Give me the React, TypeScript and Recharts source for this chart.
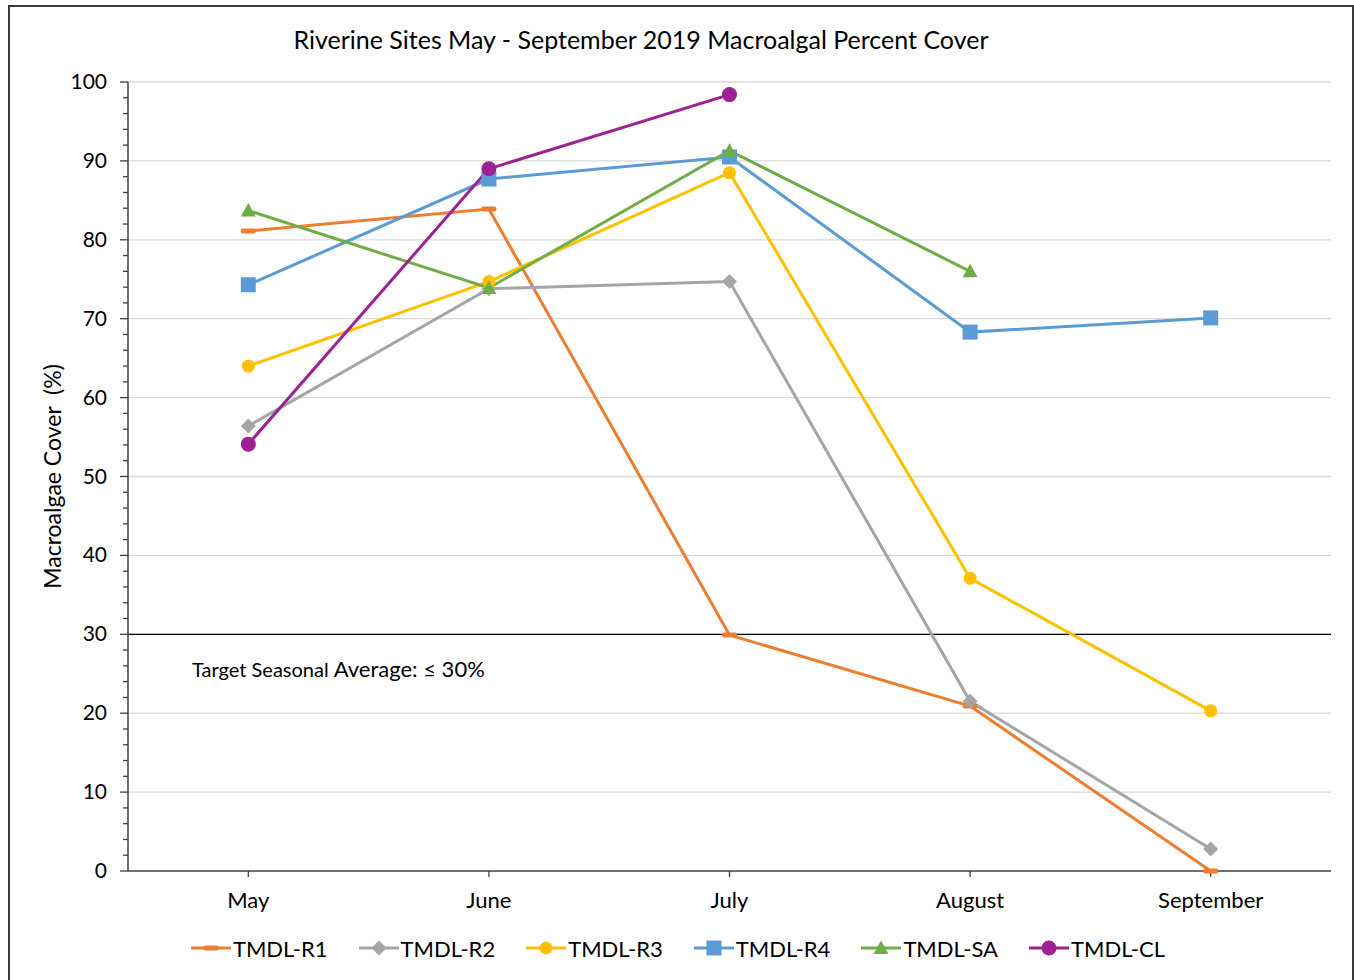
import React from 'react';
import { LineChart, Line, XAxis, YAxis, CartesianGrid, ReferenceLine, Legend } from 'recharts';

const months = ['May', 'June', 'July', 'August', 'September'];
const r1 = [81.1, 83.9, 29.9, 20.9, 0];
const r2 = [56.4, 73.8, 74.7, 21.5, 2.8];
const r3 = [64.0, 74.7, 88.5, 37.1, 20.3];
const r4 = [74.3, 87.7, 90.5, 68.3, 70.1];
const sa = [83.7, 73.9, 91.3, 76.0, null];
const cl = [54.1, 89.0, 98.4, null, null];
const yTicks = Array.from({ length: 51 }, (_, i) => i * 2);
const gridValues = [10, 20, 30, 40, 50, 60, 70, 80, 90, 100];

const FONT = 'Lato, "Liberation Sans", sans-serif';

type Kind = 'dash' | 'diamond' | 'circle' | 'square' | 'triangle' | 'bigcircle';

const series: { key: string; name: string; color: string; kind: Kind; values: (number | null)[] }[] = [
  { key: 'r1', name: 'TMDL-R1', color: '#ED7D31', kind: 'dash', values: r1 },
  { key: 'r2', name: 'TMDL-R2', color: '#A5A5A5', kind: 'diamond', values: r2 },
  { key: 'r3', name: 'TMDL-R3', color: '#FFC000', kind: 'circle', values: r3 },
  { key: 'r4', name: 'TMDL-R4', color: '#5B9BD5', kind: 'square', values: r4 },
  { key: 'sa', name: 'TMDL-SA', color: '#70AD47', kind: 'triangle', values: sa },
  { key: 'cl', name: 'TMDL-CL', color: '#9C2193', kind: 'bigcircle', values: cl },
];

const data = months.map((m, i) => {
  const row: Record<string, string | number | null> = { month: m };
  series.forEach((s) => (row[s.key] = s.values[i]));
  return row;
});

function Marker({ kind, cx, cy, color }: { kind: Kind; cx: number; cy: number; color: string }) {
  switch (kind) {
    case 'dash':
      return <rect x={cx - 7.5} y={cy - 2.5} width={15} height={5} rx={2} fill={color} />;
    case 'diamond':
      return <polygon points={`${cx},${cy - 7.5} ${cx + 7.5},${cy} ${cx},${cy + 7.5} ${cx - 7.5},${cy}`} fill={color} />;
    case 'circle':
      return <circle cx={cx} cy={cy} r={6.5} fill={color} />;
    case 'square':
      return <rect x={cx - 7.5} y={cy - 7.5} width={15} height={15} fill={color} />;
    case 'triangle':
      return <polygon points={`${cx},${cy - 7.5} ${cx + 7.5},${cy + 6} ${cx - 7.5},${cy + 6}`} fill={color} />;
    default:
      return <circle cx={cx} cy={cy} r={7.5} fill={color} />;
  }
}

function YTick(props: any) {
  const { x, y, payload } = props;
  const major = payload.value % 10 === 0;
  return (
    <g>
      <line x1={x - (major ? 8 : 5)} x2={x} y1={y} y2={y} stroke="#404040" strokeWidth={1.3} />
      {major && (
        <text x={x - 21} y={y} dy={7} textAnchor="end" fontSize={21} fontFamily={FONT} fill="#000">
          {payload.value}
        </text>
      )}
    </g>
  );
}

function LegendContent() {
  return (
    <div style={{ display: 'flex', justifyContent: 'center', alignItems: 'center', height: 30, gap: 30, paddingLeft: 14 }}>
      {series.map((s) => (
        <div key={s.key} style={{ display: 'flex', alignItems: 'center' }}>
          <svg width={42} height={18}>
            <line x1={1} x2={41} y1={9} y2={9} stroke={s.color} strokeWidth={3} />
            <Marker kind={s.kind} cx={21} cy={9} color={s.color} />
          </svg>
          <span style={{ fontFamily: FONT, fontSize: 22, color: '#000', marginLeft: 1 }}>{s.name}</span>
        </div>
      ))}
    </div>
  );
}

export default function App() {
  return (
    <div style={{ position: 'absolute', left: 0, top: 0, width: 1354, height: 980, background: '#fff', overflow: 'hidden' }}>
      <div
        style={{
          position: 'absolute',
          left: 8,
          top: 5,
          width: 1342,
          height: 990,
          border: '2px solid #3a3a3a',
        }}
      />
      <div
        style={{
          position: 'absolute',
          left: 0,
          width: 1282,
          top: 24,
          textAlign: 'center',
          fontFamily: FONT,
          fontSize: 25,
          color: '#000',
        }}
      >
        Riverine Sites May - September 2019 Macroalgal Percent Cover
      </div>
      <div style={{ position: 'absolute', left: 0, top: 0 }}>
        <LineChart width={1354} height={980} data={data} margin={{ top: 82, right: 23, bottom: 17, left: 10 }}>
          <CartesianGrid vertical={false} horizontalValues={gridValues} stroke="#D9D9D9" strokeWidth={1.3} />
          <XAxis
            dataKey="month"
            padding={{ left: 120.3, right: 120.3 }}
            height={62}
            axisLine={{ stroke: '#404040', strokeWidth: 1.5 }}
            tickLine={{ stroke: '#404040', strokeWidth: 1.3 }}
            tickSize={6}
            tickMargin={15}
            tick={{ fontSize: 22, fontFamily: FONT, fill: '#000' }}
          />
          <YAxis
            domain={[0, 100]}
            ticks={yTicks}
            interval={0}
            width={118}
            tickSize={0}
            tickMargin={0}
            tickLine={false}
            axisLine={{ stroke: '#404040', strokeWidth: 1.5 }}
            tick={<YTick />}
            label={{
              content: (p: any) => {
                const vb = p.viewBox;
                const cx = 52;
                const cy = vb.y + vb.height / 2;
                return (
                  <text
                    x={cx}
                    y={cy}
                    transform={`rotate(-90 ${cx} ${cy})`}
                    textAnchor="middle"
                    dominantBaseline="central"
                    fontSize={23}
                    fontFamily={FONT}
                    fill="#000"
                    style={{ whiteSpace: 'pre' }}
                  >
                    Macroalgae Cover  (%)
                  </text>
                );
              },
            }}
          />
          <ReferenceLine
            y={30}
            stroke="#000"
            strokeWidth={1.3}
            ifOverflow="visible"
            label={{
              content: () => (
                <text x={192} y={677} fontFamily={FONT} fill="#000">
                  <tspan fontSize={20}>Target Seasonal </tspan>
                  <tspan fontSize={22}>Average: ≤ 30%</tspan>
                </text>
              ),
            }}
          />
          <Legend verticalAlign="bottom" height={30} content={() => <LegendContent />} />
          {series.map((s) => (
            <Line
              key={s.key}
              dataKey={s.key}
              name={s.name}
              stroke={s.color}
              strokeWidth={3}
              isAnimationActive={false}
              dot={(p: any) =>
                p.cx == null || p.cy == null || p.value == null ? (
                  <g key={`${s.key}-${p.index}`} />
                ) : (
                  <g key={`${s.key}-${p.index}`}>
                    <Marker kind={s.kind} cx={p.cx} cy={p.cy} color={s.color} />
                  </g>
                )
              }
              activeDot={false}
            />
          ))}
        </LineChart>
      </div>
    </div>
  );
}
